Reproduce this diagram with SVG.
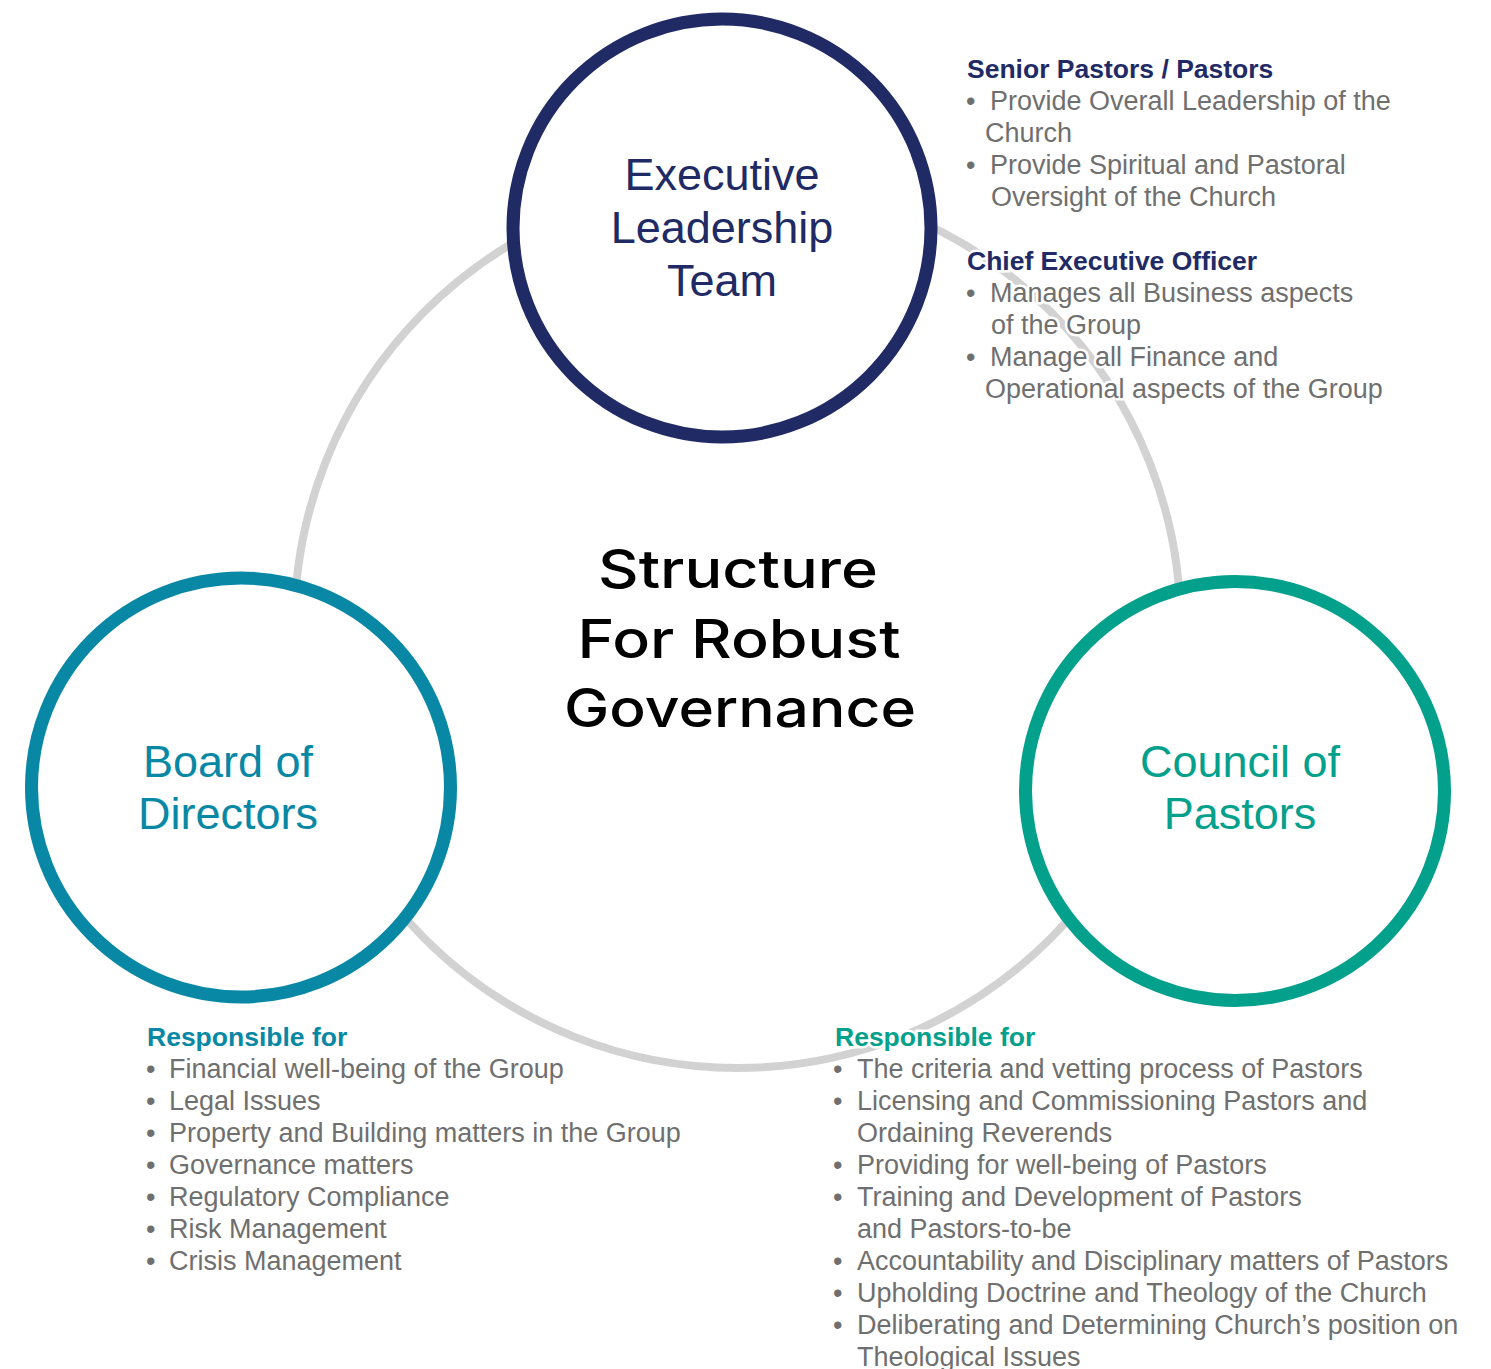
<svg xmlns="http://www.w3.org/2000/svg" width="1491" height="1369" viewBox="0 0 1491 1369">
<style>
.ring{fill:none;stroke:#d2d2d2;stroke-width:8}
.node{fill:#ffffff;stroke-width:13}
.nt{font-family:"Liberation Sans",Arial,sans-serif;font-size:45px;text-anchor:middle}
.title{font-family:Inter,"Liberation Sans",Arial,sans-serif;font-size:53px;font-weight:500;fill:#000000;text-anchor:middle}
.hd{font-family:"Liberation Sans",Arial,sans-serif;font-size:26.5px;font-weight:bold}
.bt{font-family:"Liberation Sans",Arial,sans-serif;font-size:27px;fill:#6f6f6f;stroke:#ffffff;stroke-width:5px;paint-order:stroke;stroke-linejoin:round}
.bt2{font-family:"Liberation Sans",Arial,sans-serif;font-size:27px;fill:#6f6f6f}
</style>
<rect width="1491" height="1369" fill="#ffffff"/>
<g id="connectors">
<circle class="ring" cx="737.5" cy="625" r="443"/>
</g>
<g id="title">
<text class="title" x="738" y="588" textLength="280" lengthAdjust="spacingAndGlyphs">Structure</text>
<text class="title" x="739" y="658" textLength="323" lengthAdjust="spacingAndGlyphs">For Robust</text>
<text class="title" x="740" y="727" textLength="352" lengthAdjust="spacingAndGlyphs">Governance</text>
</g>
<g id="executive">
<circle class="node" cx="722" cy="228" r="209" stroke="#202a64"/>
<text class="nt" fill="#202a64" x="722" y="190">Executive</text>
<text class="nt" fill="#202a64" x="722" y="243">Leadership</text>
<text class="nt" fill="#202a64" x="722" y="296">Team</text>
</g>
<g id="board">
<circle class="node" cx="241" cy="787.5" r="209.5" stroke="#0888a4"/>
<text class="nt" fill="#0888a4" x="228" y="777">Board of</text>
<text class="nt" fill="#0888a4" x="228" y="829">Directors</text>
</g>
<g id="council">
<circle class="node" cx="1235" cy="791" r="209.5" stroke="#03a08c"/>
<text class="nt" fill="#03a08c" x="1240" y="777">Council of</text>
<text class="nt" fill="#03a08c" x="1240" y="829">Pastors</text>
</g>
<g id="executive-notes">
<text class="hd" fill="#222a66" x="967" y="78">Senior Pastors / Pastors</text>
<text class="bt" x="966" y="110">•</text>
<text class="bt" x="990" y="110">Provide Overall Leadership of the</text>
<text class="bt" x="985" y="142">Church</text>
<text class="bt" x="966" y="174">•</text>
<text class="bt" x="990" y="174">Provide Spiritual and Pastoral</text>
<text class="bt" x="991" y="206">Oversight of the Church</text>
<text class="hd" fill="#222a66" x="967" y="270" stroke="#ffffff" stroke-width="5" paint-order="stroke">Chief Executive Officer</text>
<text class="bt" x="966" y="302">•</text>
<text class="bt" x="990" y="302">Manages all Business aspects</text>
<text class="bt" x="991" y="334">of the Group</text>
<text class="bt" x="966" y="366">•</text>
<text class="bt" x="990" y="366">Manage all Finance and</text>
<text class="bt" x="985" y="398">Operational aspects of the Group</text>
</g>
<g id="board-notes">
<text class="hd" fill="#0888a4" x="147" y="1046">Responsible for</text>
<text class="bt2" x="146" y="1078">•</text><text class="bt2" x="169" y="1078">Financial well-being of the Group</text>
<text class="bt2" x="146" y="1110">•</text><text class="bt2" x="169" y="1110">Legal Issues</text>
<text class="bt2" x="146" y="1142">•</text><text class="bt2" x="169" y="1142">Property and Building matters in the Group</text>
<text class="bt2" x="146" y="1174">•</text><text class="bt2" x="169" y="1174">Governance matters</text>
<text class="bt2" x="146" y="1206">•</text><text class="bt2" x="169" y="1206">Regulatory Compliance</text>
<text class="bt2" x="146" y="1238">•</text><text class="bt2" x="169" y="1238">Risk Management</text>
<text class="bt2" x="146" y="1270">•</text><text class="bt2" x="169" y="1270">Crisis Management</text>
</g>
<g id="council-notes">
<text class="hd" fill="#03a08c" x="835" y="1046" stroke="#ffffff" stroke-width="5" paint-order="stroke">Responsible for</text>
<text class="bt" x="833" y="1078">•</text><text class="bt" x="857" y="1078">The criteria and vetting process of Pastors</text>
<text class="bt2" x="833" y="1110">•</text><text class="bt2" x="857" y="1110">Licensing and Commissioning Pastors and</text>
<text class="bt2" x="857" y="1142">Ordaining Reverends</text>
<text class="bt2" x="833" y="1174">•</text><text class="bt2" x="857" y="1174">Providing for well-being of Pastors</text>
<text class="bt2" x="833" y="1206">•</text><text class="bt2" x="857" y="1206">Training and Development of Pastors</text>
<text class="bt2" x="857" y="1238">and Pastors-to-be</text>
<text class="bt2" x="833" y="1270">•</text><text class="bt2" x="857" y="1270">Accountability and Disciplinary matters of Pastors</text>
<text class="bt2" x="833" y="1302">•</text><text class="bt2" x="857" y="1302">Upholding Doctrine and Theology of the Church</text>
<text class="bt2" x="833" y="1334">•</text><text class="bt2" x="857" y="1334">Deliberating and Determining Church’s position on</text>
<text class="bt2" x="857" y="1366">Theological Issues</text>
</g>
</svg>
